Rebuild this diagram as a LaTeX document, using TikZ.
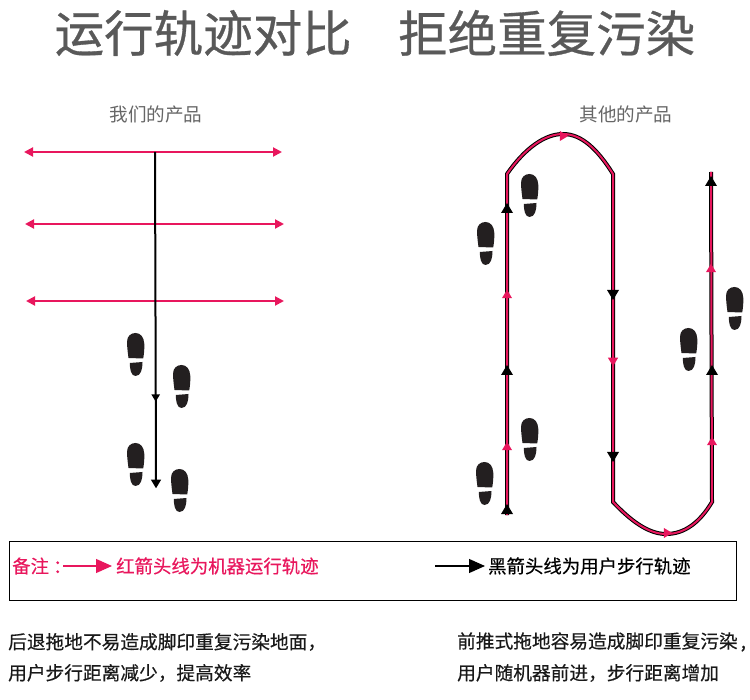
\documentclass[tikz,border=0pt]{standalone}
\usepackage{fontspec}
\newfontfamily\cjk[FakeBold=0.45]{Noto Sans CJK SC}
\newfontfamily\cjktitle[FakeBold=0.6]{Noto Sans CJK SC}
\newfontfamily\cjklight{Noto Sans CJK SC}
\usepackage{tikz}
\usetikzlibrary{arrows.meta, calc, positioning}
\definecolor{runpink}{HTML}{E8175D}
\definecolor{titlegray}{HTML}{595959}
\definecolor{footblack}{HTML}{231F20}
\tikzset{
  runline/.style={draw=runpink, line width=2pt, {Triangle[length=9pt,width=9pt]}-{Triangle[length=9pt,width=9pt]}},
  userline/.style={draw=black, line width=2pt},
  track/.style={draw=black, line width=1pt, double=runpink, double distance=2pt},
  usertip/.style={fill=black},
  runtip/.style={fill=runpink, scale=0.85},
  bodytext/.style={anchor=west, inner sep=0pt, font=\cjk\fontsize{18.7}{20}\selectfont, text=black!90},
  pics/footprint/.style={code={
    \fill[footblack] (1.5,25) .. controls (0.5,18) and (0,12) .. (0,9)
      .. controls (0,3) and (4,0) .. (8.5,0)
      .. controls (13.5,0) and (17,4) .. (17.3,11)
      .. controls (17.5,16) and (17,21) .. (16.2,25.5) -- cycle;
    \fill[footblack] (2.8,30) -- (15.5,29) .. controls (15.5,36) and (14,43) .. (8.5,43)
      .. controls (4,43) and (2.8,36) .. (2.8,30) -- cycle;
  }}
}
\newcommand\tip[4]{\path[shift={(#2,#3)},rotate=#4,#1] (0,-5) -- (6,5) -- (-6,5) -- cycle;}
\begin{document}
\begin{tikzpicture}[x=1pt,y=-1pt]
\useasboundingbox (0,0) rectangle (750,700);
% titles
\node[anchor=west,inner sep=0pt,text=titlegray,font=\cjktitle\fontsize{49.5}{52}\selectfont] (titleleft) at (54.5,33) {运行轨迹对比};
\node[anchor=west,inner sep=0pt,text=titlegray,font=\cjktitle\fontsize{49.5}{52}\selectfont] (titleright) at (398,33) {拒绝重复污染};
\node[text=black!60,font=\cjklight\fontsize{18.6}{20}\selectfont] (ours) at (156,114) {我们的产品};
\node[text=black!60,font=\cjklight\fontsize{18.6}{20}\selectfont] (others) at (626,114) {其他的产品};
% our product
\draw[runline] (24,152) -- (282,152);
\draw[runline] (25,224) -- (284,224);
\draw[runline] (26,301) -- (284,301);
\draw[userline] (155,152) -- (156,482);
\tip{usertip,scale=0.72}{155.7}{398}{180}
\tip{usertip,scale=0.85}{156}{484}{180}
% other product
\draw[track] (507,515) -- (507,174)
  .. controls (525,148) and (545,134) .. (563,134)
  .. controls (582,134) and (598,150) .. (613,174)
  -- (613,502)
  .. controls (630,520) and (648,534) .. (666,534)
  .. controls (685,534) and (700,522) .. (712,502)
  -- (711,172);
\foreach \x/\y in {507/208,507/370,507/509,712/370,711/181}{
  \tip{usertip}{\x}{\y}{0}
}
\foreach \x/\y in {613/295,613/457}{
  \tip{usertip}{\x}{\y}{180}
}
\foreach \x/\y in {507/294,507/446,712/441,711/268}{
  \tip{runtip}{\x}{\y}{0}
}
\tip{runtip}{613}{362}{180}
\tip{runtip}{564}{136}{-90}
\tip{runtip}{668}{533}{-90}
% footprints
\foreach \x/\y in {127/333,173/365,127/443,171/469,521/174,477/222,726/287,680/328,521/418,476/462}{
  \pic at (\x,\y) {footprint};
}
% legend
\draw[black,line width=0.9pt] (9.5,541.5) rectangle (736.5,600.5);
\node[anchor=west,inner sep=0pt,text=runpink,font=\cjk\fontsize{18.4}{20}\selectfont] (notelabel) at (12,566) {备注 ：};
\node[anchor=west,inner sep=0pt,text=runpink,font=\cjk\fontsize{18.4}{20}\selectfont] (runnote) at (116,566) {红箭头线为机器运行轨迹};
\node[anchor=west,inner sep=0pt,text=black,font=\cjk\fontsize{18.4}{20}\selectfont] (usernote) at (488,566) {黑箭头线为用户步行轨迹};
\coordinate (runstart) at (63,566);
\coordinate (userstart) at (435,566);
\draw[draw=runpink,line width=1.2pt,shorten >=4pt,-{Triangle[length=16pt,width=14pt]}] (runstart) -- (runnote.west);
\draw[draw=black,line width=1.2pt,shorten >=3pt,-{Triangle[length=16pt,width=14pt]}] (userstart) -- (usernote.west);
% bottom text
\node[bodytext] (backline) at (8,642) {后退拖地不易造成脚印重复污染地面，};
\node[bodytext] (backgain) at (8,673) {用户步行距离减少，提高效率};
\node[bodytext] (pushline) at (457,642) {前推式拖地容易造成脚印重复污染\hspace{3pt},};
\node[bodytext] (pushgain) at (457,673) {用户随机器前进，步行距离增加};
\end{tikzpicture}
\end{document}
